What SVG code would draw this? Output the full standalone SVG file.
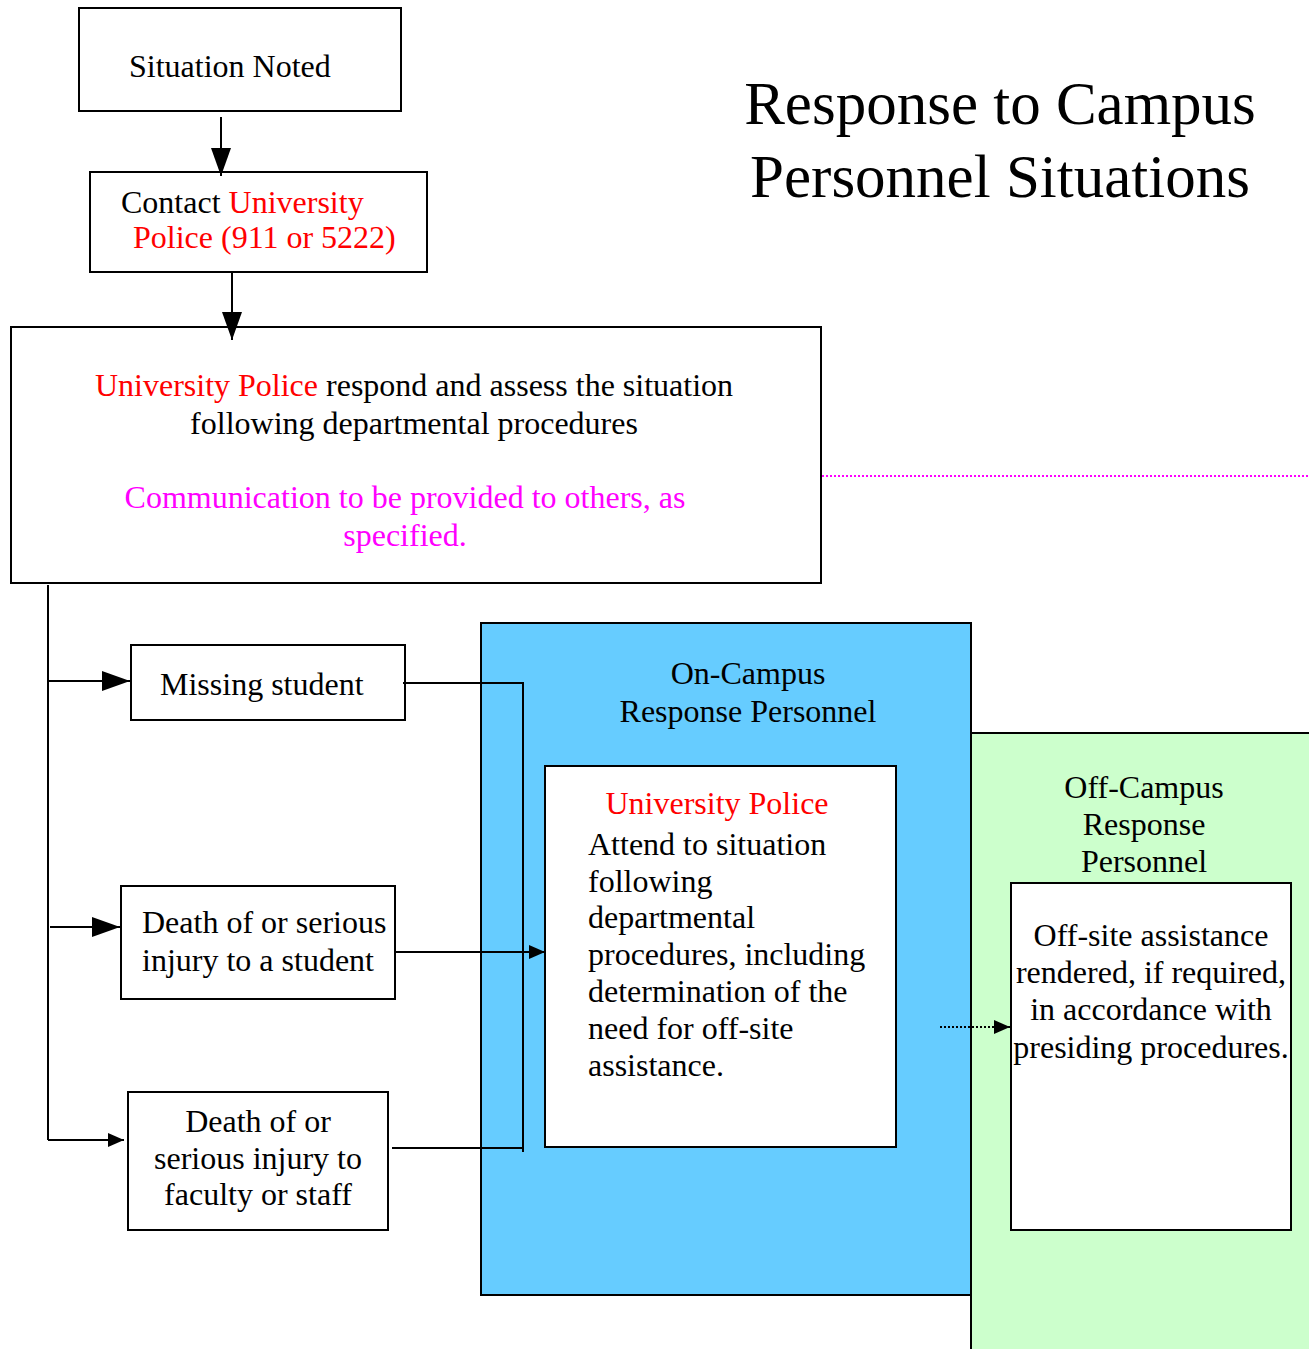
<svg xmlns="http://www.w3.org/2000/svg" width="1309" height="1349" viewBox="0 0 1309 1349">
<defs>
<style>
text{font-family:"Liberation Serif","Times New Roman",serif;font-size:32px;fill:#000}
.r{fill:#ff0000}
.m{fill:#ff00ff}
.box{fill:#fff;stroke:#000;stroke-width:2}
.ln{fill:none;stroke:#000;stroke-width:2}
.t{font-size:61px}
.c{text-anchor:middle}
</style>
<marker id="ahL" viewBox="0 0 10 10" refX="10" refY="5" markerWidth="28" markerHeight="20" markerUnits="userSpaceOnUse" orient="auto" preserveAspectRatio="none"><path d="M0,0L10,5L0,10z" fill="#000"/></marker>
<marker id="ahS" viewBox="0 0 10 10" refX="10" refY="5" markerWidth="16" markerHeight="14" markerUnits="userSpaceOnUse" orient="auto" preserveAspectRatio="none"><path d="M0,0L10,5L0,10z" fill="#000"/></marker>
</defs>
<rect width="1309" height="1349" fill="#fff"/>
<g id="title">
<text class="t c" x="1000" y="124">Response to Campus</text>
<text class="t c" x="1000" y="197">Personnel Situations</text>
</g>
<g id="blue-panel">
<rect x="481" y="623" width="490" height="672" fill="#66ccff" stroke="#000" stroke-width="2"/>
<text class="c" x="748" y="684">On-Campus</text>
<text class="c" x="748" y="722">Response Personnel</text>
</g>
<g id="green-panel">
<rect x="971" y="733" width="345" height="630" fill="#ccffcc" stroke="#000" stroke-width="2"/>
<text class="c" x="1144" y="798">Off-Campus</text>
<text class="c" x="1144" y="835">Response</text>
<text class="c" x="1144" y="872">Personnel</text>
</g>
<g id="n-situation">
<rect class="box" x="79" y="8" width="322" height="103"/>
<text x="129" y="77">Situation Noted</text>
</g>
<g id="n-contact">
<rect class="box" x="90" y="172" width="337" height="100"/>
<text x="121" y="213">Contact <tspan class="r">University</tspan></text>
<text class="r" x="133" y="248">Police (911 or 5222)</text>
</g>
<g id="n-respond">
<rect class="box" x="11" y="327" width="810" height="256"/>
<text class="c" x="414" y="396"><tspan class="r">University Police</tspan> respond and assess the situation</text>
<text class="c" x="414" y="434">following departmental procedures</text>
<text class="c m" x="405" y="508">Communication to be provided to others, as</text>
<text class="c m" x="405" y="546">specified.</text>
</g>
<g id="n-missing">
<rect class="box" x="131" y="645" width="274" height="75"/>
<text x="160" y="695">Missing student</text>
</g>
<g id="n-student">
<rect class="box" x="121" y="886" width="274" height="113"/>
<text x="142" y="933">Death of or serious</text>
<text x="142" y="971">injury to a student</text>
</g>
<g id="n-staff">
<rect class="box" x="128" y="1092" width="260" height="138"/>
<text class="c" x="258" y="1132">Death of or</text>
<text class="c" x="258" y="1169">serious injury to</text>
<text class="c" x="258" y="1205">faculty or staff</text>
</g>
<g id="n-police">
<rect class="box" x="545" y="766" width="351" height="381"/>
<text class="c r" x="717" y="814">University Police</text>
<text x="588" y="855">Attend to situation</text>
<text x="588" y="892">following</text>
<text x="588" y="928">departmental</text>
<text x="588" y="965">procedures, including</text>
<text x="588" y="1002">determination of the</text>
<text x="588" y="1039">need for off-site</text>
<text x="588" y="1076">assistance.</text>
</g>
<g id="n-offsite">
<rect class="box" x="1011" y="883" width="280" height="347"/>
<text class="c" x="1151" y="946">Off-site assistance</text>
<text class="c" x="1151" y="983">rendered, if required,</text>
<text class="c" x="1151" y="1020">in accordance with</text>
<text class="c" x="1151" y="1058">presiding procedures.</text>
</g>
<g id="connectors">
<line class="ln" x1="221" y1="117" x2="221" y2="176" marker-end="url(#ahL)"/>
<line class="ln" x1="232" y1="272" x2="232" y2="340" marker-end="url(#ahL)"/>
<line x1="822" y1="476" x2="1309" y2="476" stroke="#ff00ff" stroke-width="2" stroke-dasharray="2,2"/>
<line class="ln" x1="48" y1="585" x2="48" y2="1140"/>
<line class="ln" x1="48" y1="681" x2="130" y2="681" marker-end="url(#ahL)"/>
<line class="ln" x1="50" y1="927" x2="120" y2="927" marker-end="url(#ahL)"/>
<line class="ln" x1="48" y1="1140" x2="124" y2="1140" marker-end="url(#ahS)"/>
<polyline class="ln" points="403,683 523,683 523,1152"/>
<line class="ln" x1="395" y1="952" x2="545" y2="952" marker-end="url(#ahS)"/>
<line class="ln" x1="392" y1="1148" x2="523" y2="1148"/>
<line x1="940" y1="1027" x2="1010" y2="1027" stroke="#000" stroke-width="2" stroke-dasharray="2,2" marker-end="url(#ahS)"/>
</g>
</svg>
